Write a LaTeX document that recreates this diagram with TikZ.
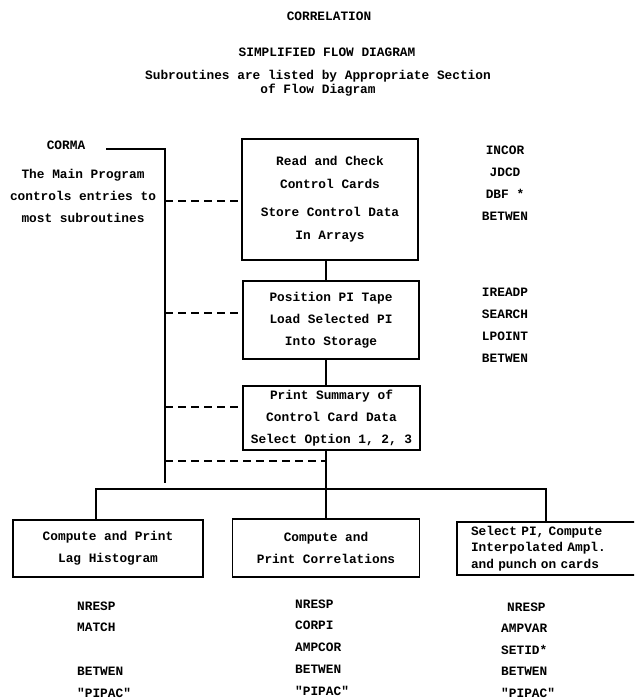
\documentclass[tikz,border=0pt]{standalone}
\usepackage{fontspec}
\setmonofont{Liberation Mono}
\usetikzlibrary{positioning}

\tikzset{
  box/.style={draw,line width=1.3pt,align=center,inner sep=0pt},
  link/.style={line width=1.2pt,dash pattern=on 8pt off 5pt},
  wire/.style={line width=1.3pt},
}

\begin{document}
\begin{tikzpicture}[x=1pt,y=-1pt,every node/.style={font=\ttfamily\fontsize{12.8}{22}\selectfont\bfseries,inner sep=0pt}]
  \useasboundingbox (0,0) rectangle (634,700);
  \clip (0,0) rectangle (634,700);

  % headings
  \node (title) at (329,16) {CORRELATION};
  \node (subtitle) at (327,52) {SIMPLIFIED FLOW DIAGRAM};
  \node[align=center,font=\ttfamily\fontsize{12.8}{13.5}\selectfont\bfseries] (note) at (318,83)
    {Subroutines are listed by Appropriate Section\\of Flow Diagram};

  % main program
  \node (corma) at (66,145) {CORMA};
  \node[align=center] (mainprog) at (83,196) {The Main Program\\controls entries to\\most subroutines};

  % boxes
  \node[box,minimum width=176pt,minimum height=121pt,font=\ttfamily\fontsize{12.8}{23}\selectfont\bfseries] (read) at (330,199.5)
    {Read and Check\\Control Cards\\[5pt]Store Control Data\\In Arrays};
  \node[box,minimum width=176pt,minimum height=78pt] (tape) at (331,320)
    {Position PI Tape\\Load Selected PI\\Into Storage};
  \node[box,minimum width=177pt,minimum height=64pt] (summary) at (331.5,418)
    {Print Summary of\\Control Card Data\\Select Option 1, 2, 3};
  \node[box,minimum width=190pt,minimum height=57pt] (lag) at (108,548.5)
    {Compute and Print\\Lag Histogram};
  \node[box,minimum width=187pt,minimum height=58pt] (corr) at (326,548)
    {Compute and\\Print Correlations};
  \node[box,align=left,text width=155pt,inner xsep=14pt,minimum height=53pt,font=\ttfamily\fontsize{12.8}{16.5}\selectfont\bfseries] (ampl) at (548.5,548.5)
    {Select PI, Compute\\Interpolated Ampl.\\and punch on cards};

  % connectors
  \coordinate (cormstart) at (106,149);
  \coordinate (cormtop) at (165,149);
  \coordinate (cormend) at (165,483);
  \coordinate (spine) at (326,461);
  \coordinate (busL) at (96,489);
  \coordinate (busR) at (546,489);
  \draw[wire] (cormstart) -- (cormtop) -- (cormend);
  \draw[wire] (read.south -| spine) -- (tape.north -| spine);
  \draw[wire] (tape.south -| spine) -- (summary.north -| spine);
  \draw[wire] (summary.south -| spine) -- (corr.north -| spine);
  \draw[wire] (busL |- lag.north) -- (busL) -- (busR) -- (busR |- ampl.north);
  \foreach \b/\s in {read/-1.5,tape/7,summary/11}
    \draw[link] ([yshift=\s pt]\b.west -| cormtop) -- ([yshift=\s pt]\b.west);
  \draw[link] (spine -| cormtop) -- (spine);

  % subroutine lists
  \foreach \s [count=\k from 0] in {INCOR,JDCD,DBF *,BETWEN}
    \node (readsub\k) at (505,150+22*\k) {\s};
  \foreach \s [count=\k from 0] in {IREADP,SEARCH,LPOINT,BETWEN}
    \node (tapesub\k) at (505,292+22*\k) {\s};
  \foreach \s/\k in {NRESP/0,MATCH/1,BETWEN/3,"PIPAC"/4}
    \node[anchor=west] (lagsub\k) at (77,606+21.7*\k) {\s};
  \foreach \s [count=\k from 0] in {NRESP,CORPI,AMPCOR,BETWEN,"PIPAC"}
    \node[anchor=west] (corrsub\k) at (295,604+21.7*\k) {\s};
  \foreach \s/\x [count=\k from 0] in {NRESP/507,AMPVAR/501,SETID*/501,BETWEN/501,"PIPAC"/501}
    \node[anchor=west] (amplsub\k) at (\x,607+21.5*\k) {\s};
\end{tikzpicture}
\end{document}
